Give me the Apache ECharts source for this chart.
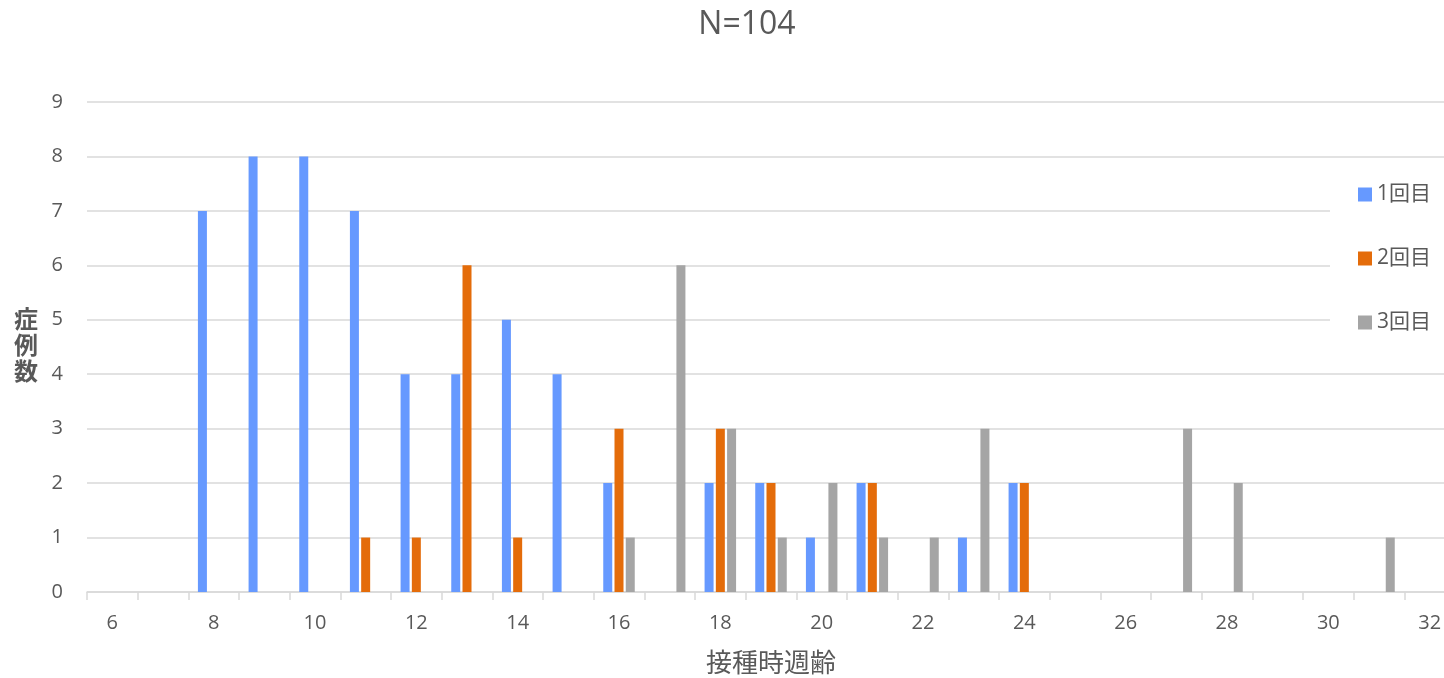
<!DOCTYPE html>
<html>
<head>
<meta charset="utf-8">
<script src="https://cdn.jsdelivr.net/npm/echarts@6/dist/echarts.min.js"></script>
<style>
html,body{margin:0;padding:0;background:#fff;}
#chart{width:1444px;height:678px;}
</style>
</head>
<body>
<div id="chart"></div>
<script>
const categories = ['6','7','8','9','10','11','12','13','14','15','16','17','18','19','20','21','22','23','24','25','26','27','28','29','30','31','32'];
const dose1 = [0,0,7,8,8,7,4,4,5,4,2,0,2,2,1,2,0,1,2,0,0,0,0,0,0,0,0];
const dose2 = [0,0,0,0,0,1,1,6,1,0,3,0,3,2,0,2,0,0,2,0,0,0,0,0,0,0,0];
const dose3 = [0,0,0,0,0,0,0,0,0,0,1,6,3,1,2,1,1,3,0,0,0,3,2,0,0,1,0];
const seriesNames = ['1回目','2回目','3回目'];
const colors = ['#6699FF','#E46C0A','#A5A5A5'];

const FONT = "'Open Sans','Noto Sans CJK JP',sans-serif";
const TXT = '#595959';
const chart = echarts.init(document.getElementById('chart'));
chart.setOption({
  animation: false,
  textStyle: { fontFamily: FONT },
  title: {
    text: 'N=104',
    left: 742, top: 4, textAlign: 'center',
    textStyle: { fontFamily: FONT, fontSize: 32, fontWeight: 'normal', color: TXT }
  },
  legend: {
    orient: 'vertical',
    left: 1330, top: 170,
    padding: [14, 20, 14, 28],
    backgroundColor: '#fff',
    itemWidth: 14, itemHeight: 14, itemGap: 43,
    icon: 'rect',
    textStyle: { fontFamily: FONT, fontSize: 21, color: TXT, lineHeight: 20 },
    data: seriesNames
  },
  grid: { left: 87, top: 102, right: -11, bottom: 86, containLabel: false, outerBoundsMode: 'none' },
  xAxis: {
    type: 'category',
    data: categories,
    boundaryGap: true,
    name: '接種時週齢',
    nameLocation: 'middle',
    nameGap: 60,
    nameTextStyle: { fontFamily: FONT, fontSize: 26, color: TXT },
    axisLine: { lineStyle: { color: '#D9D9D9', width: 1.5 } },
    axisTick: { show: true, interval: 0, length: 8, lineStyle: { color: '#D9D9D9', width: 1.5 } },
    axisLabel: { interval: 1, margin: 21, fontSize: 20, color: TXT, fontFamily: FONT },
    splitLine: { show: false }
  },
  yAxis: {
    type: 'value',
    min: 0, max: 9, interval: 1,
    name: '症\n例\n数',
    nameLocation: 'middle',
    nameRotate: 0,
    nameGap: 49,
    nameTextStyle: { fontFamily: FONT, fontSize: 24, lineHeight: 26, color: TXT, fontWeight: 600 },
    axisLine: { show: false },
    axisTick: { show: false },
    axisLabel: { margin: 24, fontSize: 20, color: TXT, fontFamily: FONT },
    splitLine: { lineStyle: { color: '#D9D9D9', width: 1.5 } }
  },
  series: [
    { name: seriesNames[0], type: 'bar', data: dose1, barWidth: 9, barGap: '25%', itemStyle: { color: colors[0] } },
    { name: seriesNames[1], type: 'bar', data: dose2, barWidth: 9, barGap: '25%', itemStyle: { color: colors[1] } },
    { name: seriesNames[2], type: 'bar', data: dose3, barWidth: 9, barGap: '25%', itemStyle: { color: colors[2] } }
  ]
});
</script>
</body>
</html>
